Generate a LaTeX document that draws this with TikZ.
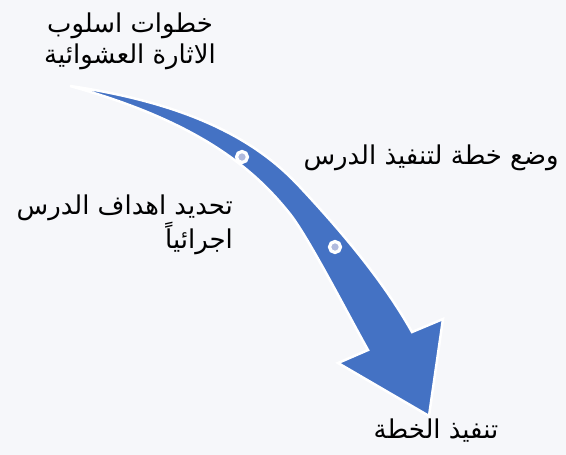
\documentclass[tikz,border=0pt]{standalone}
\usepackage{fontspec}
\newfontfamily\arabicfont[Script=Arabic]{DejaVu Sans}
\TeXXeTstate=1
\definecolor{bg}{RGB}{246,247,250}
\definecolor{arrowblue}{RGB}{68,114,196}
\definecolor{dotfill}{RGB}{176,186,222}
\begin{document}
\begin{tikzpicture}[x=1bp,y=-1bp,
  lbl/.style={font=\arabicfont\fontsize{26}{31}\selectfont, text=black, inner sep=0pt},
  stepdot/.style={circle, fill=dotfill, draw=white, line width=3.2bp, minimum size=11bp, inner sep=0pt}]
\fill[bg] (0,0) rectangle (566,455);
\useasboundingbox (0,0) rectangle (566,455);
\coordinate (tail) at (70,86);
\coordinate (om) at (300,187);
\coordinate (sr) at (412,332);
\coordinate (hr) at (443,319);
\coordinate (tip) at (429,416);
\coordinate (hl) at (338,363);
\coordinate (sl) at (368,350);
\coordinate (im) at (290,214);
\draw[fill=arrowblue, draw=white, line width=2.5bp, line join=miter]
  (tail) .. controls (200,105) and (262,146) .. (om)
  .. controls (340.8,230.8) and (382.6,279.8) .. (sr)
  -- (hr) -- (tip) -- (hl) -- (sl)
  .. controls (348.4,315.2) and (308.6,237.4) .. (im)
  .. controls (255,170) and (200,122) .. (tail) -- cycle;
\node[stepdot] (d1) at (242,157) {};
\node[stepdot] (d2) at (335,247) {};
\node[lbl, align=center] (t1) at (130,41) {\beginR خطوات اسلوب\endR\\\beginR الاثارة العشوائية\endR};
\node[lbl] (t2) at (431,158) {\beginR وضع خطة لتنفيذ الدرس\endR};
\node[lbl, align=right, anchor=east] (t3) at (233,225) {\beginR تحديد اهداف الدرس\endR\\\beginR اجرائياً\endR};
\node[lbl] (t4) at (436,431) {\beginR تنفيذ الخطة\endR};
\end{tikzpicture}
\end{document}
